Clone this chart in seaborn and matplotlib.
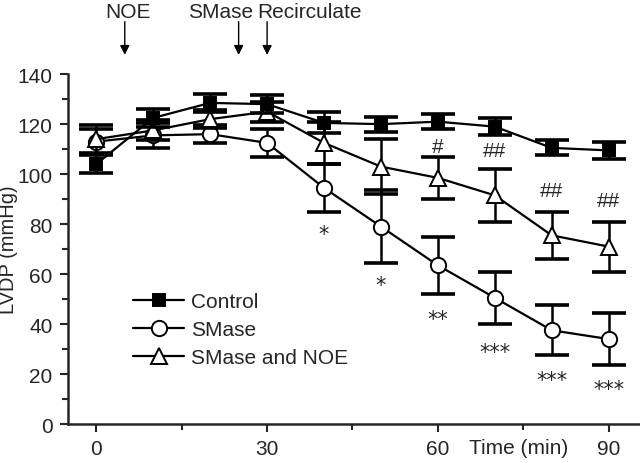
import matplotlib
matplotlib.use("Agg")
import matplotlib.pyplot as plt
from matplotlib.ticker import MultipleLocator
import matplotlib.transforms as mtransforms
import seaborn as sns
import pandas as pd

# ---- data ----
time = [0, 10, 20, 30, 40, 50, 60, 70, 80, 90]
control = [104, 122.5, 128.5, 128, 120.5, 120, 121, 119, 110.5, 109.5]
control_err = [3.5, 3.5, 3.5, 3.6, 4.2, 3, 3, 3.5, 3, 3.5]
smase = [113, 115.5, 116, 112.5, 94.5, 79, 63.5, 50.5, 37.5, 34]
smase_err = [5, 5, 3.5, 5.5, 9.5, 14.5, 11.5, 10.5, 10, 10.5]
noe = [114, 117.5, 122, 125, 112.5, 103, 98.5, 91.5, 75.5, 71]
noe_err = [5.5, 4, 3.5, 4, 8.5, 11, 8.5, 10.5, 9.5, 10]

series_names = ["Control", "SMase", "SMase and NOE"]

star_x = [40, 50, 60, 70, 80, 90]
star_y = [76, 55.5, 42, 29, 17.5, 14]
star_labels = ["*", "*", "**", "***", "***", "***"]

hash_x = [60, 70, 80, 90]
hash_y = [111, 109.5, 93.5, 89.5]
hash_labels = ["#", "##", "##", "##"]

event_x = [5, 25, 30]
event_labels = ["NOE", "SMase", "Recirculate"]

x_ticks = [0, 30, 60, 90]
y_ticks = [0, 20, 40, 60, 80, 100, 120, 140]

# ---- style ----
sns.set_style("ticks")
plt.rcParams["font.family"] = ["Liberation Sans", "DejaVu Sans"]
plt.rcParams["font.size"] = 15

FS = 15

fig = plt.figure(figsize=(6.4, 4.64), dpi=100)
ax = fig.add_axes([0.106, 0.084, 0.894, 0.754])

df = pd.DataFrame({
    "time": time * 3,
    "value": control + smase + noe,
    "err": control_err + smase_err + noe_err,
    "group": sum([[n] * len(time) for n in series_names], []),
})

styles = {
    "Control": dict(marker="s", mfc="black", ms=9, z=5),
    "SMase": dict(marker="o", mfc="white", ms=11, z=3),
    "SMase and NOE": dict(marker="^", mfc="white", ms=11, z=4),
}

for name in series_names:
    sub = df[df["group"] == name]
    st = styles[name]
    ax.errorbar(sub["time"], sub["value"], yerr=sub["err"], fmt="none",
                ecolor="black", elinewidth=1.8, capsize=12, capthick=2.6,
                zorder=st["z"] - 0.5)
    sns.lineplot(data=sub, x="time", y="value", ax=ax, color="black",
                 linewidth=1.6, marker=st["marker"], markersize=st["ms"],
                 markerfacecolor=st["mfc"], markeredgecolor="black",
                 markeredgewidth=1.4, label=name, zorder=st["z"])

for x, y, s in zip(star_x, star_y, star_labels):
    ax.text(x, y, s, ha="center", va="center", fontsize=15,
            family=["DejaVu Sans"])
for x, y, s in zip(hash_x, hash_y, hash_labels):
    ax.text(x, y, s, ha="center", va="center", fontsize=FS)

trans = mtransforms.blended_transform_factory(ax.transData, ax.transAxes)
for x in event_x:
    ax.annotate("", xy=(x, 1.055), xytext=(x, 1.15), xycoords=trans,
                textcoords=trans, annotation_clip=False,
                arrowprops=dict(arrowstyle="-|>", color="black", lw=1.0,
                                mutation_scale=14, shrinkA=0, shrinkB=0))
ax.text(event_x[0] + 0.5, 1.178, event_labels[0], transform=trans,
        ha="center", va="center", fontsize=FS)
ax.text(27.6, 1.178, event_labels[1], transform=trans,
        ha="right", va="center", fontsize=FS)
ax.text(28.3, 1.178, event_labels[2], transform=trans,
        ha="left", va="center", fontsize=FS)

ax.set_xlim(-5, 95.5)
ax.set_ylim(0, 140)
ax.set_xticks(x_ticks)
ax.set_yticks(y_ticks)
ax.xaxis.set_minor_locator(MultipleLocator(15))
ax.yaxis.set_minor_locator(MultipleLocator(10))
ax.tick_params(which="major", direction="out", length=6, width=1.5, labelsize=FS)
ax.tick_params(which="minor", direction="out", length=4, width=1.5)
ax.tick_params(axis="x", pad=5)
ax.tick_params(axis="y", pad=5)
for sp in ["left", "bottom"]:
    ax.spines[sp].set_linewidth(1.8)
sns.despine(ax=ax, top=True, right=True)

ax.set_xlabel("")
ax.set_ylabel("LVDP (mmHg)", fontsize=14.5)
ax.yaxis.set_label_coords(-0.087, 0.5)
ax.text(74.2, -0.066, "Time (min)", transform=trans, ha="center",
        va="center", fontsize=FS)

leg = ax.legend(loc="upper left", bbox_to_anchor=(0.1, 0.40), frameon=False,
                handlelength=2.45, fontsize=FS, labelspacing=0.42,
                handletextpad=0.3, borderaxespad=0)

fig.savefig("out.png", dpi=100)
